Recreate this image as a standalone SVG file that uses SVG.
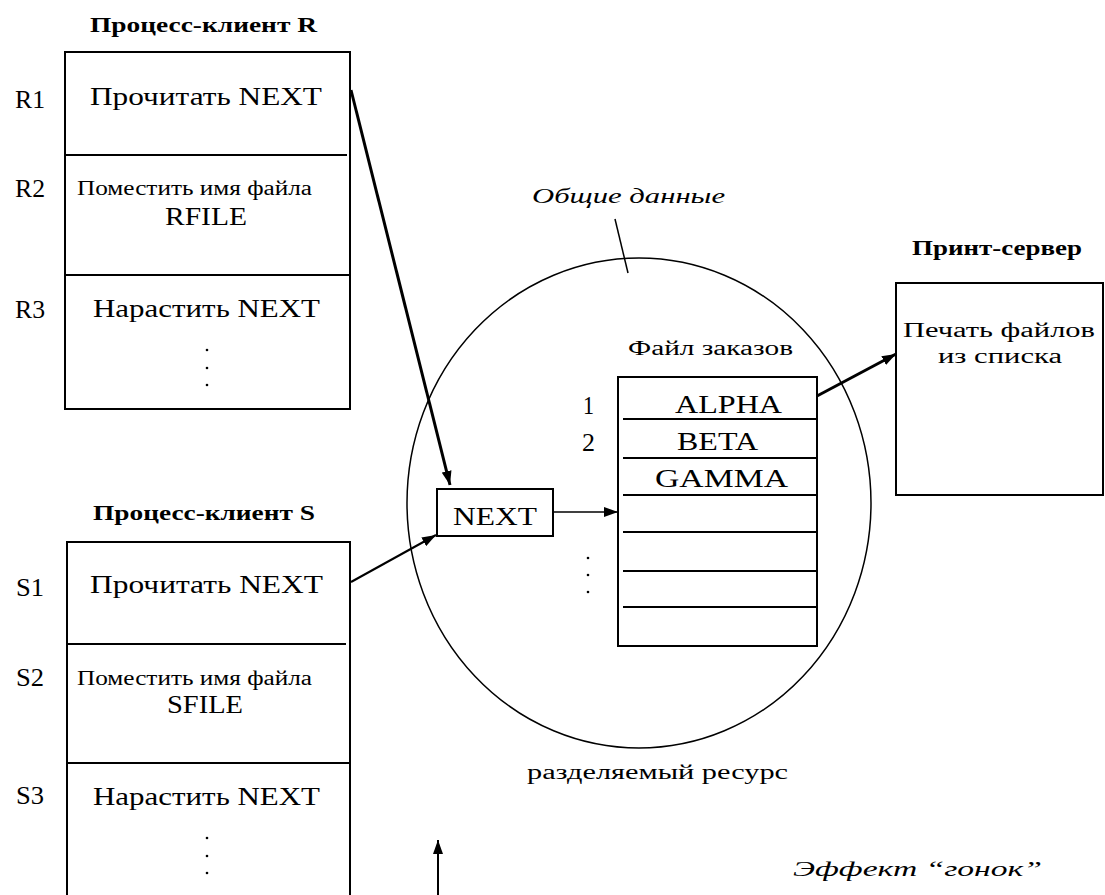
<svg xmlns="http://www.w3.org/2000/svg" width="1105" height="895" viewBox="0 0 1105 895">
<style>
  .box{fill:none;stroke:#000;stroke-width:2}
  .thin{fill:none;stroke:#000;stroke-width:1.5}
  .t{font-family:"Liberation Serif","DejaVu Serif",serif;font-size:25px;fill:#000}
  .s{font-family:"Liberation Serif","DejaVu Serif",serif;font-size:20px;fill:#000}
  .b{font-family:"Liberation Serif","DejaVu Serif",serif;font-size:20px;font-weight:bold;fill:#000}
  .i{font-family:"Liberation Serif","DejaVu Serif",serif;font-size:21px;font-style:italic;fill:#000}
  .dot{fill:#000}
</style>
<defs>
  <marker id="ah" markerUnits="userSpaceOnUse" markerWidth="14" markerHeight="10" refX="14" refY="5" orient="auto">
    <path d="M0,0 L14,5 L0,10 z" fill="#000"/>
  </marker>
</defs>
<rect width="1105" height="895" fill="#fff"/>

<g id="clientR">
  <text class="b" x="90" y="32" textLength="227" lengthAdjust="spacingAndGlyphs">Процесс-клиент R</text>
  <rect class="box" x="65" y="52" width="285" height="357"/>
  <line class="box" x1="65" y1="155" x2="347" y2="155"/>
  <line class="box" x1="65" y1="275" x2="350" y2="275"/>
  <text class="t" x="15" y="108" textLength="30" lengthAdjust="spacingAndGlyphs">R1</text>
  <text class="t" x="15" y="197" textLength="30" lengthAdjust="spacingAndGlyphs">R2</text>
  <text class="t" x="15" y="318" textLength="30" lengthAdjust="spacingAndGlyphs">R3</text>
  <text class="t" x="90" y="105" textLength="232" lengthAdjust="spacingAndGlyphs">Прочитать NEXT</text>
  <text class="s" x="77" y="195" textLength="235" lengthAdjust="spacingAndGlyphs">Поместить имя файла</text>
  <text class="t" x="165" y="225" textLength="82" lengthAdjust="spacingAndGlyphs">RFILE</text>
  <text class="t" x="93" y="317" textLength="227" lengthAdjust="spacingAndGlyphs">Нарастить NEXT</text>
  <circle class="dot" cx="207" cy="350" r="1.3"/>
  <circle class="dot" cx="207" cy="368" r="1.3"/>
  <circle class="dot" cx="207" cy="385" r="1.3"/>
</g>

<g id="clientS">
  <text class="b" x="93" y="520" textLength="222" lengthAdjust="spacingAndGlyphs">Процесс-клиент S</text>
  <path class="box" d="M67,896 L67,542 L350,542 L350,896"/>
  <line class="box" x1="67" y1="644" x2="346" y2="644"/>
  <line class="box" x1="67" y1="763" x2="350" y2="763"/>
  <text class="t" x="16" y="596" textLength="28" lengthAdjust="spacingAndGlyphs">S1</text>
  <text class="t" x="16" y="686" textLength="28" lengthAdjust="spacingAndGlyphs">S2</text>
  <text class="t" x="16" y="804" textLength="28" lengthAdjust="spacingAndGlyphs">S3</text>
  <text class="t" x="90" y="593" textLength="233" lengthAdjust="spacingAndGlyphs">Прочитать NEXT</text>
  <text class="s" x="77" y="685" textLength="235" lengthAdjust="spacingAndGlyphs">Поместить имя файла</text>
  <text class="t" x="167" y="713" textLength="76" lengthAdjust="spacingAndGlyphs">SFILE</text>
  <text class="t" x="93" y="805" textLength="227" lengthAdjust="spacingAndGlyphs">Нарастить NEXT</text>
  <circle class="dot" cx="207" cy="838" r="1.3"/>
  <circle class="dot" cx="207" cy="856" r="1.3"/>
  <circle class="dot" cx="207" cy="873" r="1.3"/>
</g>

<g id="sharedData">
  <ellipse class="thin" cx="639" cy="503" rx="232" ry="245"/>
  <line class="thin" x1="615" y1="219" x2="628" y2="273"/>
  <text class="i" x="532" y="203" textLength="193" lengthAdjust="spacingAndGlyphs">Общие данные</text>
  <text class="s" x="527" y="779" textLength="261" lengthAdjust="spacingAndGlyphs">разделяемый ресурс</text>
</g>

<g id="nextBox">
  <rect class="box" x="437" y="489" width="116" height="47"/>
  <text class="t" x="453" y="525" textLength="84" lengthAdjust="spacingAndGlyphs">NEXT</text>
</g>

<g id="orderFile">
  <text class="s" x="628" y="355" textLength="165" lengthAdjust="spacingAndGlyphs">Файл заказов</text>
  <rect class="box" x="618" y="377" width="199" height="269"/>
  <line class="box" x1="623" y1="419" x2="817" y2="419"/>
  <line class="box" x1="623" y1="458" x2="817" y2="458"/>
  <line class="box" x1="623" y1="495" x2="817" y2="495"/>
  <line class="box" x1="623" y1="532" x2="817" y2="532"/>
  <line class="box" x1="623" y1="571" x2="817" y2="571"/>
  <line class="box" x1="623" y1="607" x2="817" y2="607"/>
  <text class="t" x="675" y="413" textLength="107" lengthAdjust="spacingAndGlyphs">ALPHA</text>
  <text class="t" x="677" y="450" textLength="81" lengthAdjust="spacingAndGlyphs">BETA</text>
  <text class="t" x="655" y="487" textLength="133" lengthAdjust="spacingAndGlyphs">GAMMA</text>
  <text class="t" x="583" y="414" textLength="11" lengthAdjust="spacingAndGlyphs">1</text>
  <text class="t" x="582" y="451" textLength="13" lengthAdjust="spacingAndGlyphs">2</text>
  <circle class="dot" cx="588" cy="558" r="1.3"/>
  <circle class="dot" cx="588" cy="575" r="1.3"/>
  <circle class="dot" cx="588" cy="592" r="1.3"/>
</g>

<g id="printServer">
  <text class="b" x="912" y="255" textLength="170" lengthAdjust="spacingAndGlyphs">Принт-сервер</text>
  <rect class="box" x="896" y="283" width="207" height="212"/>
  <text class="s" x="903" y="337" textLength="192" lengthAdjust="spacingAndGlyphs">Печать файлов</text>
  <text class="s" x="938" y="363" textLength="124" lengthAdjust="spacingAndGlyphs">из списка</text>
</g>

<g id="caption">
  <text class="i" x="793" y="876" font-size="23" textLength="249" lengthAdjust="spacingAndGlyphs">Эффект “гонок”</text>
</g>

<g id="connectors">
  <line x1="351" y1="90" x2="450" y2="485" stroke="#000" stroke-width="3" marker-end="url(#ah)"/>
  <line x1="351" y1="582" x2="436" y2="535" stroke="#000" stroke-width="2" marker-end="url(#ah)"/>
  <line x1="553" y1="512" x2="618" y2="512" stroke="#000" stroke-width="1.5" marker-end="url(#ah)"/>
  <line x1="817" y1="396" x2="896" y2="354" stroke="#000" stroke-width="3" marker-end="url(#ah)"/>
  <line x1="438" y1="895" x2="438" y2="840" stroke="#000" stroke-width="2" marker-end="url(#ah)"/>
</g>
</svg>
